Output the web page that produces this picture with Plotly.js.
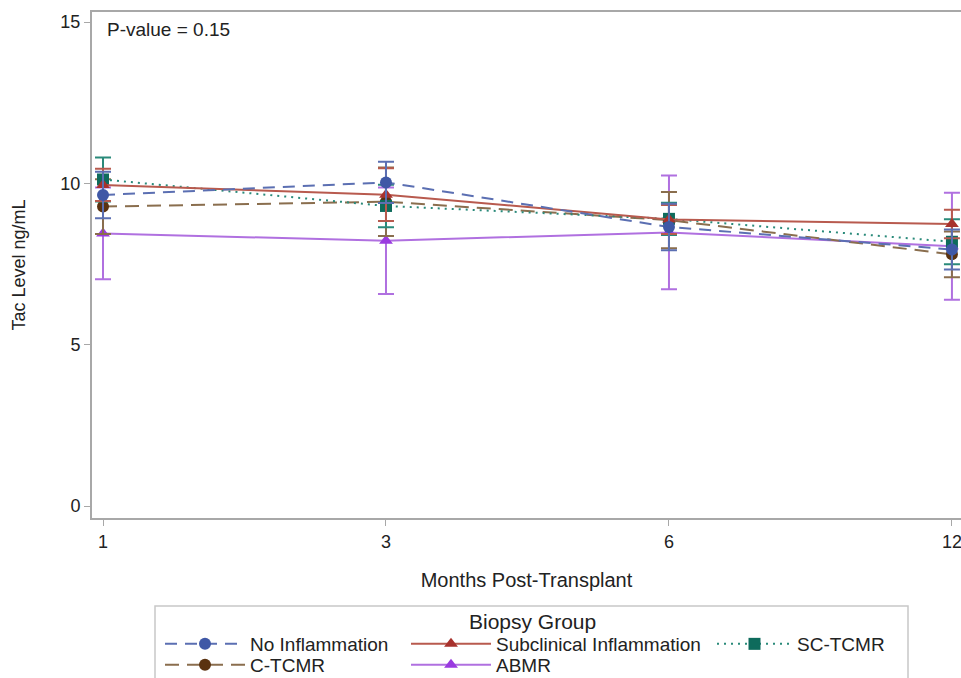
<!DOCTYPE html>
<html>
<head>
<meta charset="utf-8">
<script src="https://cdn.plot.ly/plotly-3.0.1.min.js"></script>
<style>html,body{margin:0;padding:0;background:#fff;}#chart{width:961px;height:678px;}</style>
</head>
<body>
<div id="chart"></div>
<script>
// ---- data ----
var months = ["1", "3", "6", "12"];
var noInflammation = [9.64, 10.03, 8.65, 7.95];
var noInflammationErr = [0.72, 0.64, 0.72, 0.62];
var subclinical = [9.95, 9.65, 8.88, 8.74];
var subclinicalErr = [0.50, 0.82, 0.45, 0.44];
var scTcmr = [10.12, 9.30, 8.90, 8.19];
var scTcmrErr = [0.68, 0.66, 0.50, 0.70];
var cTcmr = [9.28, 9.43, 8.86, 7.80];
var cTcmrErr = [0.85, 1.06, 0.87, 0.71];
var abmr = [8.45, 8.22, 8.48, 8.05];
var abmrErr = [1.42, 1.65, 1.76, 1.66];
var yTicks = [0, 5, 10, 15];

var FONT = "Liberation Sans, Arial, sans-serif";

function tr(name, y, err, lineColor, markerColor, dash, symbol, legend) {
  return {
    type: "scatter", mode: "lines+markers", x: months, y: y, name: name,
    legend: legend,
    line: {color: lineColor, width: 2, dash: dash},
    marker: {color: markerColor, size: 12, symbol: symbol},
    error_y: {type: "data", array: err, visible: true, color: lineColor, thickness: 2, width: 8}
  };
}

var traces = [
  tr("ABMR", abmr, abmrErr, "#b070e0", "#9a3ae0", "solid", "triangle-up", "legend5"),
  tr("C-TCMR", cTcmr, cTcmrErr, "#8a6e4e", "#5a3210", "14px,8px", "circle", "legend4"),
  tr("SC-TCMR", scTcmr, scTcmrErr, "#2a8a7a", "#0e6b5c", "2px,5px", "square", "legend3"),
  tr("Subclinical Inflammation", subclinical, subclinicalErr, "#b85a4e", "#a8322d", "solid", "triangle-up", "legend2"),
  tr("No Inflammation", noInflammation, noInflammationErr, "#5b6fb2", "#3f58a6", "12px,8px", "circle", "legend")
];

function leg(xpx, ypx, iw) {
  return {orientation: "v", bgcolor: "rgba(0,0,0,0)", borderwidth: 0,
    font: {family: FONT, size: 19, color: "#222"}, yanchor: "top", xanchor: "left",
    itemwidth: iw || 80, itemclick: false,
    x: (xpx - 92) / 869, y: (518 - ypx) / 506};
}

var layout = {
  width: 961, height: 678,
  margin: {l: 92, r: 0, t: 12, b: 160, autoexpand: false},
  paper_bgcolor: "#fff", plot_bgcolor: "#fff",
  font: {family: FONT, color: "#222"},
  showlegend: true,
  legend: leg(160, 625),
  legend2: leg(406, 625),
  legend3: leg(712, 625, 75),
  legend4: leg(160, 646),
  legend5: leg(406, 646),
  xaxis: {
    type: "category", range: [-0.0389, 3.032],
    showline: true, mirror: true, linecolor: "#a8a8a8", linewidth: 2,
    ticks: "outside", ticklen: 6, tickcolor: "#a8a8a8", tickwidth: 1,
    showgrid: false, zeroline: false,
    tickfont: {family: FONT, size: 18, color: "#222"},
    title: {text: "Months Post-Transplant", font: {family: FONT, size: 20, color: "#222"}, standoff: 22}
  },
  yaxis: {
    range: [-0.37, 15.31], tickvals: yTicks, ticktext: yTicks.map(String),
    showline: true, mirror: true, linecolor: "#a8a8a8", linewidth: 2,
    ticks: "outside", ticklen: 6, tickcolor: "#a8a8a8", tickwidth: 1,
    showgrid: false, zeroline: false,
    tickfont: {family: FONT, size: 18, color: "#222"},
    title: {text: "Tac Level ng/mL", font: {family: FONT, size: 18, color: "#222"}, standoff: 30}
  },
  shapes: [{
    type: "rect", xref: "paper", yref: "paper",
    x0: (155 - 92) / 869, x1: (908 - 92) / 869, y0: (518 - 606) / 506, y1: (518 - 690) / 506,
    line: {color: "#c8c8c8", width: 1.5}, fillcolor: "rgba(0,0,0,0)"
  }],
  annotations: [
    {text: "P-value = 0.15", xref: "paper", yref: "paper", x: (105 - 92) / 869, y: (518 - 29) / 506,
     xanchor: "left", yanchor: "middle", showarrow: false,
     font: {family: FONT, size: 19, color: "#222"}},
    {text: "Biopsy Group", xref: "paper", yref: "paper", x: (532 - 92) / 869, y: (518 - 621) / 506,
     xanchor: "center", yanchor: "middle", showarrow: false,
     font: {family: FONT, size: 21, color: "#222"}}
  ]
};

Plotly.newPlot("chart", traces, layout, {displayModeBar: false, staticPlot: true});
</script>
</body>
</html>
